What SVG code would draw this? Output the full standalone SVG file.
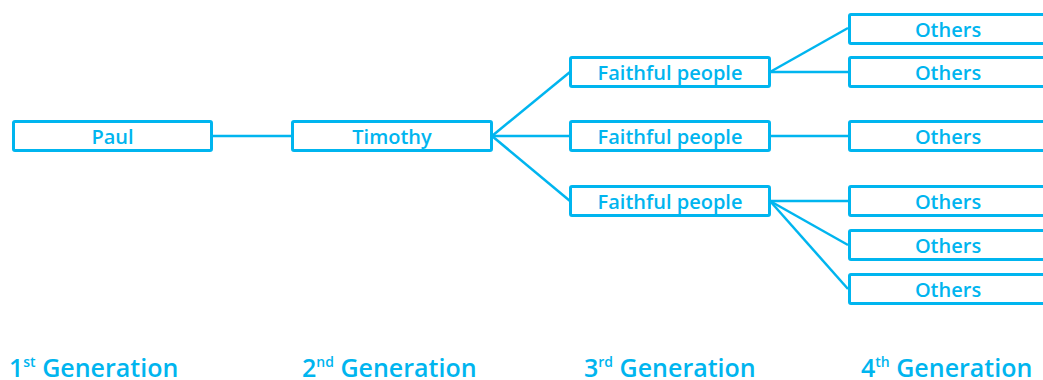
<svg xmlns="http://www.w3.org/2000/svg" width="1043" height="380" viewBox="0 0 1043 380">
<style>
.box{fill:#fff;stroke:#00b5ef;stroke-width:3;rx:1.5}
.lbl{font-family:"Open Sans",Lato,sans-serif;font-weight:600;font-size:20px;fill:#00b5ef;text-anchor:middle}
.gen{font-family:"Open Sans",Lato,sans-serif;font-weight:600;font-size:25px;fill:#00b5ef}
.sup{font-size:14px}
#connectors line{stroke:#00b5ef;stroke-width:2.5}
</style>
<rect width="1043" height="380" fill="#fff"/>
<g id="connectors">
<line x1="213" y1="136" x2="292" y2="136"/>
<line x1="492" y1="136" x2="570" y2="72"/>
<line x1="492" y1="136" x2="570" y2="136"/>
<line x1="492" y1="136" x2="570" y2="201"/>
<line x1="770" y1="72" x2="848" y2="28"/>
<line x1="770" y1="72" x2="848" y2="72"/>
<line x1="770" y1="136" x2="848" y2="136"/>
<line x1="770" y1="201" x2="848" y2="201"/>
<line x1="770" y1="201" x2="848" y2="245"/>
<line x1="770" y1="201" x2="848" y2="289"/>
</g>
<g id="paul"><rect class="box" x="13.5" y="121.5" width="198" height="29"/><text class="lbl" x="112.5" y="143.5">Paul</text></g>
<g id="timothy"><rect class="box" x="292.5" y="121.5" width="199" height="29"/><text class="lbl" x="392" y="143.5">Timothy</text></g>
<g id="faithful1"><rect class="box" x="570.5" y="57.5" width="199" height="29"/><text class="lbl" x="670" y="79.5">Faithful people</text></g>
<g id="faithful2"><rect class="box" x="570.5" y="121.5" width="199" height="29"/><text class="lbl" x="670" y="143.5">Faithful people</text></g>
<g id="faithful3"><rect class="box" x="570.5" y="186.5" width="199" height="29"/><text class="lbl" x="670" y="208.5">Faithful people</text></g>
<g id="others1"><rect class="box" x="849.5" y="14.5" width="199" height="29"/><text class="lbl" x="948" y="36.5">Others</text></g>
<g id="others2"><rect class="box" x="849.5" y="57.5" width="199" height="29"/><text class="lbl" x="948" y="79.5">Others</text></g>
<g id="others3"><rect class="box" x="849.5" y="121.5" width="199" height="29"/><text class="lbl" x="948" y="143.5">Others</text></g>
<g id="others4"><rect class="box" x="849.5" y="186.5" width="199" height="29"/><text class="lbl" x="948" y="208.5">Others</text></g>
<g id="others5"><rect class="box" x="849.5" y="230.5" width="199" height="29"/><text class="lbl" x="948" y="252.5">Others</text></g>
<g id="others6"><rect class="box" x="849.5" y="274.5" width="199" height="29"/><text class="lbl" x="948" y="296.5">Others</text></g>
<g id="gen1"><text class="gen" x="9" y="377">1<tspan class="sup" dy="-10">st</tspan><tspan dy="10"> Generation</tspan></text></g>
<g id="gen2"><text class="gen" x="302" y="377">2<tspan class="sup" dy="-10">nd</tspan><tspan dy="10"> Generation</tspan></text></g>
<g id="gen3"><text class="gen" x="584" y="377">3<tspan class="sup" dy="-10">rd</tspan><tspan dy="10"> Generation</tspan></text></g>
<g id="gen4"><text class="gen" x="861" y="377">4<tspan class="sup" dy="-10">th</tspan><tspan dy="10"> Generation</tspan></text></g>
</svg>
